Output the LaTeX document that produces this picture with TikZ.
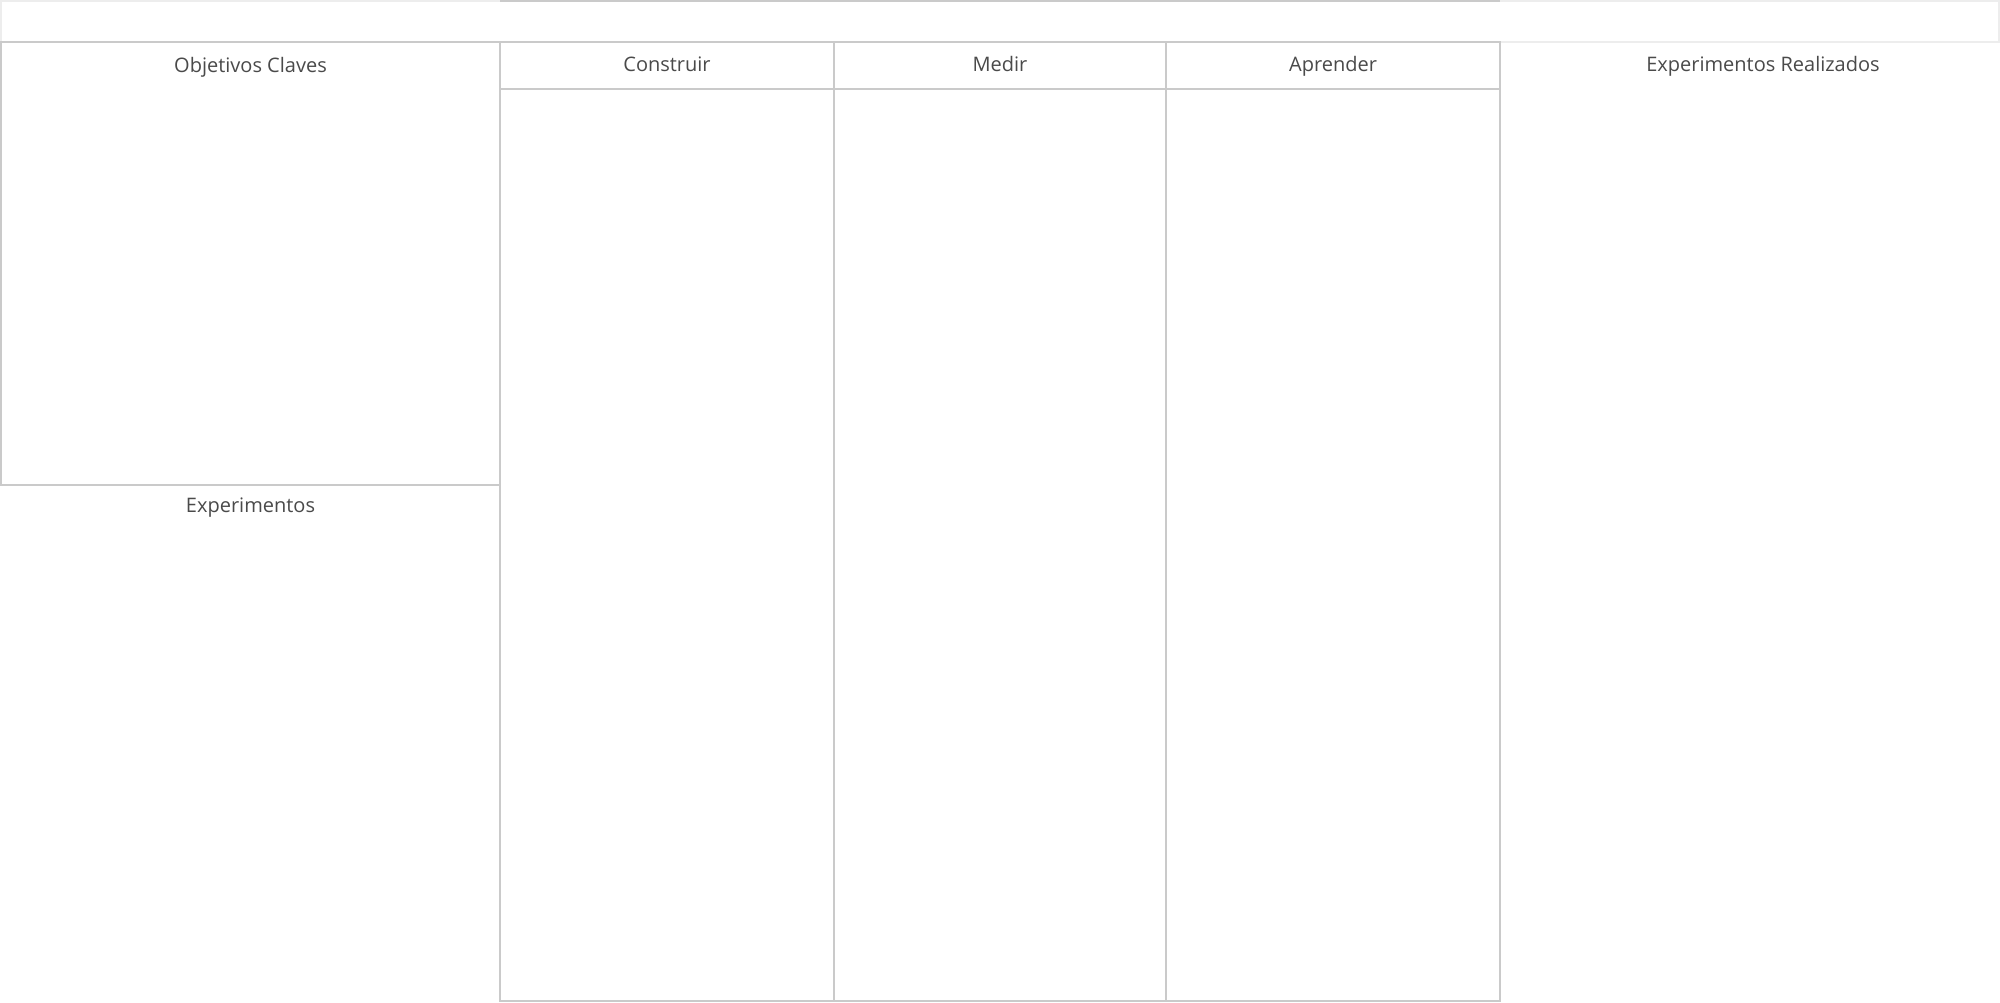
\documentclass[tikz,border=0pt]{standalone}
\usepackage{fontspec}
\setmainfont{Open Sans}
\usetikzlibrary{positioning}
\definecolor{gridline}{HTML}{CACACA}
\definecolor{faintline}{HTML}{EDEDED}
\definecolor{labeltext}{HTML}{4A4A4A}

\begin{document}
\begin{tikzpicture}[x=0.5pt,y=-0.5pt,
  every node/.style = {inner sep=0pt,outer sep=0pt},
  panel/.style      = {draw=gridline,line width=0.7pt,anchor=north west},
  column/.style     = {panel,minimum height=479.5pt},
  header/.style     = {panel,minimum height=23.5pt,font=\heading,text=labeltext,
                       text height=1.6ex,text depth=0.5ex},
  heading/.style    = {font=\heading,text=labeltext},
]
\newcommand*{\heading}{\fontsize{10}{12}\selectfont}
  \fill[white] (0,0) rectangle (2000,1002);
  \useasboundingbox (0,0) rectangle (2000,1002);
  % banner along the top
  \node[panel,draw=faintline,minimum width=999pt,minimum height=20.5pt] (banner) at (1,1) {};
  % left side
  \node[panel,minimum width=249.5pt,minimum height=221.5pt] (objetivos) at (1,42) {};
  \node[heading,below=7.5pt of objetivos.north] (objetivosT) {Objetivos Claves};
  \node[heading,below=6.5pt of objetivos.south] (experimentosT) {Experimentos};
  % build / measure / learn columns
  \node[column,minimum width=167pt] (construir) at (500,42) {};
  \node[column,minimum width=166pt,right=0pt of construir] (medir) {};
  \node[column,minimum width=167pt,right=0pt of medir] (aprender) {};
  \draw[gridline,line width=0.7pt] (construir.north west |- banner.north) -- (aprender.north east |- banner.north);
  \node[header,minimum width=167pt] (construirH) at (construir.north west) {Construir};
  \node[header,minimum width=166pt] (medirH) at (medir.north west) {Medir};
  \node[header,minimum width=167pt] (aprenderH) at (aprender.north west) {Aprender};
  % right side
  \node[heading] (realizadosT) at (1763,66) {Experimentos Realizados};
\end{tikzpicture}
\end{document}
